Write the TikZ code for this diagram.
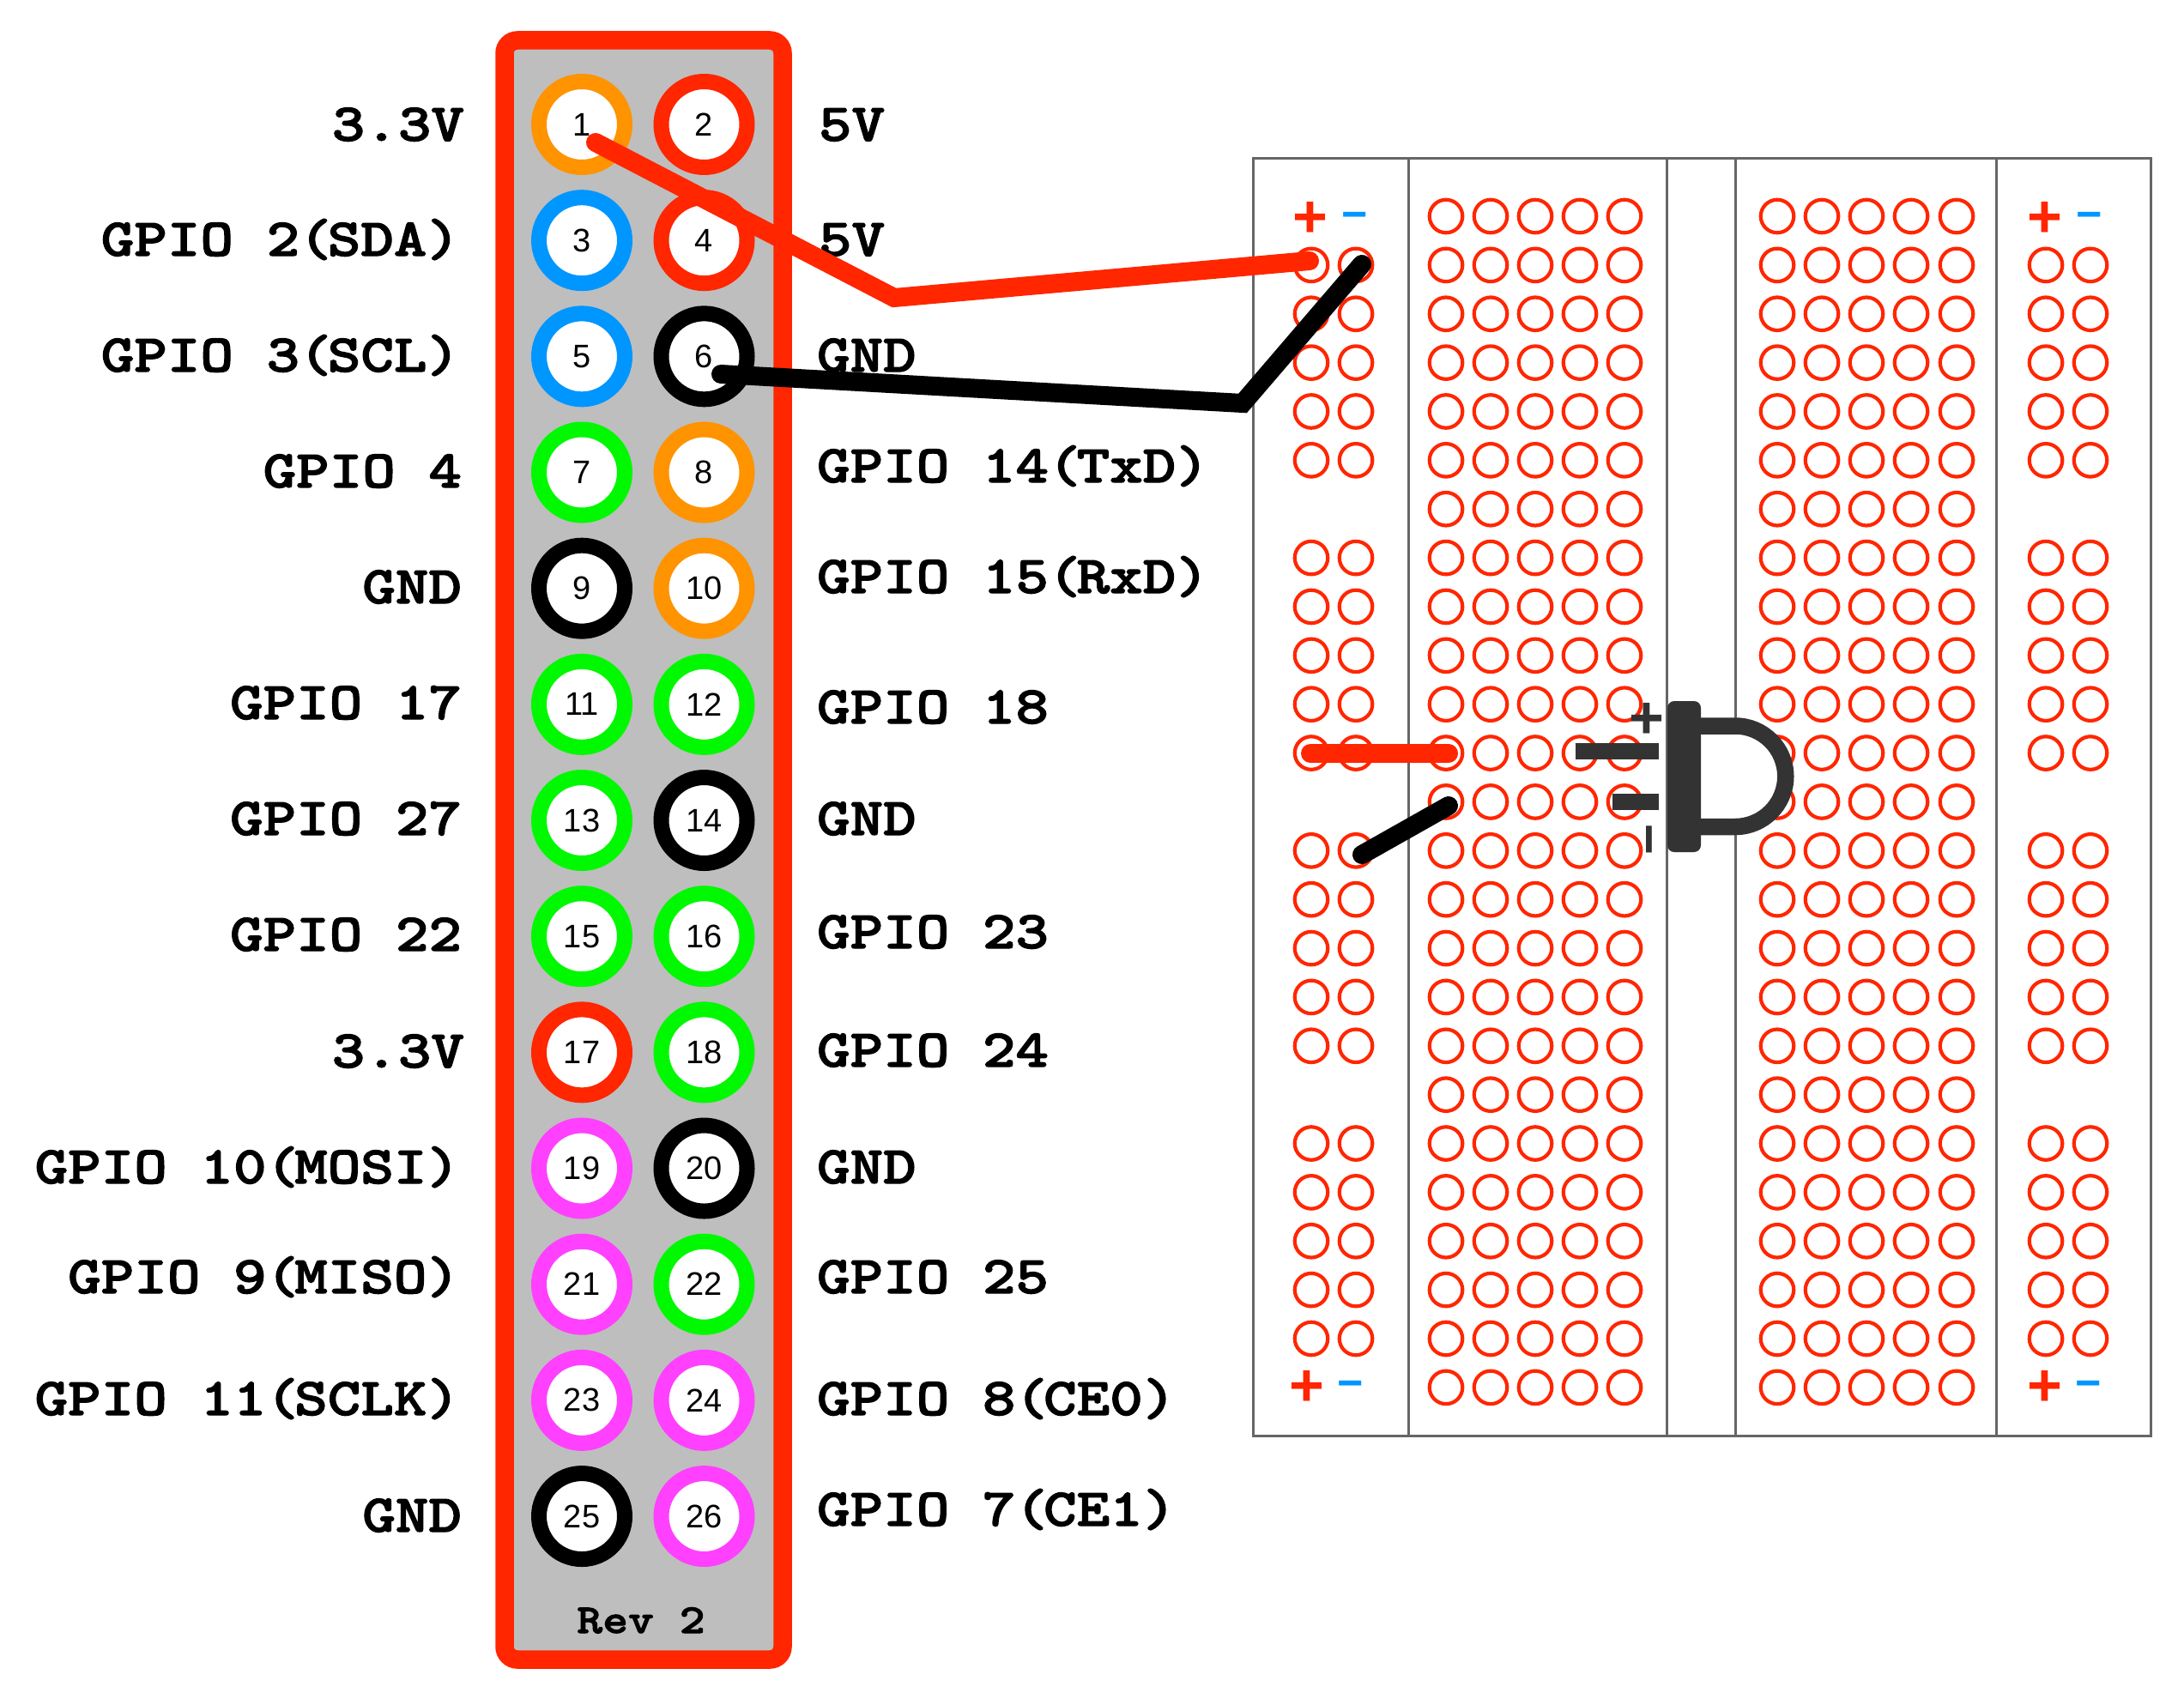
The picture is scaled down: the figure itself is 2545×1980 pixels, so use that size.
\documentclass[tikz,border=0pt]{standalone}
\usepackage{fontspec}
\setsansfont{Liberation Sans}
\newfontfamily\labfont{Latin Modern Mono Light}[FakeStretch=1.185,FakeBold=2]
\definecolor{wred}{HTML}{FF2600}
\definecolor{worange}{HTML}{FF9300}
\definecolor{wblue}{HTML}{0096FF}
\definecolor{wgreen}{HTML}{00F900}
\definecolor{wmag}{HTML}{FF40FF}
\definecolor{panelgrey}{HTML}{BEBEBE}
\definecolor{boardgrey}{HTML}{666666}
\definecolor{leddark}{HTML}{333333}
\newcommand{\kp}{\kern-1pt(\kern-5pt}
\tikzset{
  x=1pt,y=-1pt,
  pinring/.style={circle,draw=#1,fill=white,line width=18pt,minimum size=100pt,inner sep=0pt,outer sep=0pt,
     font=\sffamily\fontsize{38}{38}\selectfont,text=black},
  leftlab/.style={anchor=base east,inner sep=0pt,outer sep=0pt,font=\labfont\bfseries\fontsize{62}{62}\selectfont},
  rightlab/.style={anchor=base west,inner sep=0pt,outer sep=0pt,font=\labfont\bfseries\fontsize{62}{62}\selectfont},
  revlab/.style={anchor=base,inner sep=0pt,outer sep=0pt,font=\labfont\bfseries\fontsize{48}{48}\selectfont},
  boardline/.style={draw=boardgrey,line width=3pt},
  hole/.style={circle,draw=wred,line width=4.2pt,minimum size=38.5pt,inner sep=0pt,outer sep=0pt},
  wire/.style={line width=22pt,line cap=round,miter limit=10},
  plusmark/.style={inner sep=0pt,outer sep=0pt,font=\sffamily\bfseries\fontsize{70}{70}\selectfont,text=wred},
  minusmark/.style={inner sep=0pt,outer sep=0pt,font=\sffamily\bfseries\fontsize{52}{52}\selectfont,text=wblue},
  ledpart/.style={fill=leddark,draw=none},
}
\begin{document}
\begin{tikzpicture}
\useasboundingbox (0,0) rectangle (2545,1980);
% panel
\draw[draw=wred,fill=panelgrey,line width=21.5pt,rounded corners=15pt] (588,47) rectangle (912,1934);
% pins
\foreach \n/\c/\cx/\ry in {1/worange/0/0,2/wred/1/0,3/wblue/0/1,4/wred/1/1,5/wblue/0/2,6/black/1/2,
  7/wgreen/0/3,8/worange/1/3,9/black/0/4,10/worange/1/4,11/wgreen/0/5,12/wgreen/1/5,
  13/wgreen/0/6,14/black/1/6,15/wgreen/0/7,16/wgreen/1/7,17/wred/0/8,18/wgreen/1/8,
  19/wmag/0/9,20/black/1/9,21/wmag/0/10,22/wgreen/1/10,23/wmag/0/11,24/wmag/1/11,
  25/black/0/12,26/wmag/1/12}
  \node[pinring=\c] (p\n) at ({678+142.5*\cx},{145+135.17*\ry}) {\n};
\node[revlab] (rev) at (747,1903) {Rev 2};
% left labels
\node[leftlab] (l1) at (541,164) {3.3V};
\node[leftlab] (l3) at (536,298) {GPIO 2\kp SDA)};
\node[leftlab] (l5) at (536,433) {GPIO 3\kp SCL)};
\node[leftlab] (l7) at (538,568) {GPIO 4};
\node[leftlab] (l9) at (538,703) {GND};
\node[leftlab] (l11) at (538,838) {GPIO 17};
\node[leftlab] (l13) at (538,973) {GPIO 27};
\node[leftlab] (l15) at (538,1108) {GPIO 22};
\node[leftlab] (l17) at (541,1244) {3.3V};
\node[leftlab] (l19) at (536,1379) {GPIO 10\kp MOSI)};
\node[leftlab] (l21) at (536,1507) {GPIO 9\kp MISO)};
\node[leftlab] (l23) at (536,1649) {GPIO 11\kp SCLK)};
\node[leftlab] (l25) at (538,1785) {GND};
% right labels
\node[rightlab] (r2) at (954,164) {5V};
\node[rightlab] (r4) at (954,298) {5V};
\node[rightlab] (r6) at (952,433) {GND};
\node[rightlab] (r8) at (952,562) {GPIO 14\kp TxD)};
\node[rightlab] (r10) at (952,691) {GPIO 15\kp RxD)};
\node[rightlab] (r12) at (952,843) {GPIO 18};
\node[rightlab] (r14) at (952,973) {GND};
\node[rightlab] (r16) at (952,1105) {GPIO 23};
\node[rightlab] (r18) at (952,1243) {GPIO 24};
\node[rightlab] (r20) at (952,1379) {GND};
\node[rightlab] (r22) at (952,1507) {GPIO 25};
\node[rightlab] (r24) at (952,1649) {GPIO 8\kp CE0)};
\node[rightlab] (r26) at (952,1778) {GPIO 7\kp CE1)};
% board
\draw[boardline] (1460,185) rectangle (2506,1673);
\foreach \bx in {1641,1942,2022,2326} \draw[boardline] (\bx,185) -- (\bx,1673);
% main holes
\foreach \r in {0,...,24}{
  \foreach \hx in {1685,1737,1789,1841,1893,2071,2123,2175,2227,2280}
    \node[hole] (h\hx-\r) at (\hx,{252+56.87*\r}) {};
}
% rail holes
\foreach \r in {1,...,5,7,8,9,10,11,13,14,15,16,17,19,20,21,22,23}{
  \foreach \hx in {1528,1580,2384,2436}
    \node[hole] (h\hx-\r) at (\hx,{252+56.87*\r}) {};
}
% rail marks
\node[plusmark] (pa) at (1527,256) {+};
\node[minusmark] (ma) at (1579,257) {−};
\node[plusmark] (pb) at (2383,256) {+};
\node[minusmark] (mb) at (2435,257) {−};
\node[plusmark] (pc) at (1523,1618) {+};
\node[minusmark] (mc) at (1574,1619) {−};
\node[plusmark] (pd) at (2383,1618) {+};
\node[minusmark] (md) at (2434,1619) {−};
% LED
\fill[ledpart] (1836,866) rectangle (1933,885);
\fill[ledpart] (1879,925) rectangle (1933,944);
\draw[draw=leddark,fill=white,line width=19.5pt] (1982,846) -- (2022,846) arc[start angle=-90,end angle=90,radius=58.75] -- (1982,963.5);
\fill[ledpart,rounded corners=8pt] (1943,817) rectangle (1982,993);
\node[plusmark,text=leddark] (lp) at (1919,840) {+};
\node[minusmark,text=leddark,rotate=90,font=\sffamily\bfseries\fontsize{62}{62}\selectfont] (lm) at (1930,978) {−};
% wires
\coordinate (rs) at (694,166);
\coordinate (rc) at (1042,347);
\coordinate (bs) at (840,436);
\coordinate (bc) at (1448,470);
\coordinate (re) at (1526,304);
\coordinate (be) at (1587,308);
\draw[wire,draw=wred] (rs) -- (rc) -- (re);
\draw[wire,draw=black] (bs) -- (bc) -- (be);
\coordinate (m1) at (1527,878);
\coordinate (m2) at (1688,878);
\coordinate (m3) at (1587,996);
\coordinate (m4) at (1688,939);
\draw[wire,draw=wred] (m1) -- (m2);
\draw[wire,draw=black] (m3) -- (m4);
\end{tikzpicture}
\end{document}
